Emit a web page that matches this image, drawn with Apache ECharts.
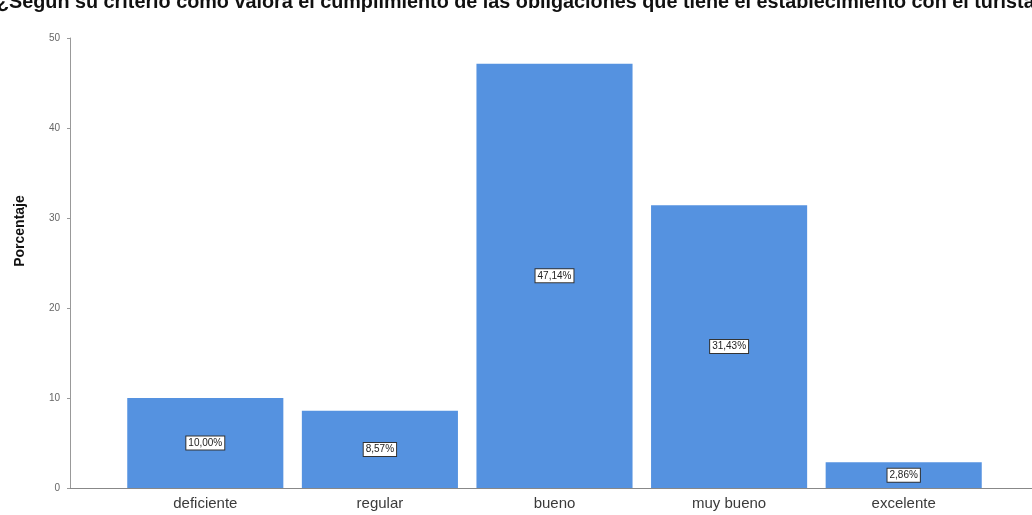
<!DOCTYPE html>
<html>
<head>
<meta charset="utf-8">
<script src="https://cdn.jsdelivr.net/npm/echarts@6/dist/echarts.min.js"></script>
<style>html,body{margin:0;padding:0;background:#fff}#c{width:1032px;height:515px}</style>
</head>
<body>
<div id="c"></div>
<script>
const categories = ['deficiente', 'regular', 'bueno', 'muy bueno', 'excelente'];
const percentages = [10.00, 8.57, 47.14, 31.43, 2.86];
const yTicks = [0, 10, 20, 30, 40, 50];
const titleText = '¿Según su criterio cómo valora el cumplimiento de las obligaciones que tiene el establecimiento con el turista?';
const yName = 'Porcentaje';

const chart = echarts.init(document.getElementById('c'), null, {renderer: 'canvas'});
const fmt = v => v.toFixed(2).replace('.', ',') + '%';
chart.setOption({
  animation: false,
  backgroundColor: '#ffffff',
  title: {
    text: titleText, left: -3, top: -7, padding: 0,
    textStyle: {fontFamily: 'Liberation Sans, Arial, sans-serif', fontWeight: 'bold', fontSize: 19.8, color: '#111'}
  },
  graphic: [{
    type: 'text', x: 20, y: 231, rotation: Math.PI / 2,
    style: {text: yName, fontFamily: 'Liberation Sans, Arial, sans-serif', fontWeight: 'bold', fontSize: 14, fill: '#111', align: 'center', verticalAlign: 'middle'}
  }],
  grid: [
    {left: 70, right: 0, top: 38, bottom: 27},
    {left: 118, right: 41, top: 38, bottom: 27}
  ],
  xAxis: [
    {gridIndex: 0, type: 'category', data: [''], axisLine: {show: true, lineStyle: {color: '#888', width: 1}}, axisTick: {show: false}, axisLabel: {show: false}},
    {gridIndex: 1, type: 'category', data: categories, axisLine: {show: false}, axisTick: {show: false},
     axisLabel: {color: '#3a3a3a', fontSize: 15, fontFamily: 'Liberation Sans, Arial, sans-serif', margin: 8}}
  ],
  yAxis: [
    {gridIndex: 0, type: 'value', min: 0, max: 50, interval: 10,
     axisLine: {show: true, lineStyle: {color: '#999', width: 1}},
     axisTick: {show: true, length: 3, lineStyle: {color: '#999'}},
     splitLine: {show: false},
     axisLabel: {color: '#666', fontSize: 10, fontFamily: 'Liberation Sans, Arial, sans-serif', margin: 10,
       formatter: v => yTicks.includes(v) ? String(v) : ''}},
    {gridIndex: 1, type: 'value', min: 0, max: 50, interval: 10, show: false, splitLine: {show: false}}
  ],
  series: [{
    type: 'bar', xAxisIndex: 1, yAxisIndex: 1,
    data: percentages,
    barCategoryGap: '10.6%',
    itemStyle: {color: '#5592E0'},
    label: {
      show: true, position: 'inside', formatter: p => fmt(p.value),
      color: '#222', fontSize: 10, fontFamily: 'Liberation Sans, Arial, sans-serif',
      backgroundColor: '#fff', borderColor: '#333', borderWidth: 1, padding: [2, 2, 1, 2]
    }
  }]
});
</script>
</body>
</html>
